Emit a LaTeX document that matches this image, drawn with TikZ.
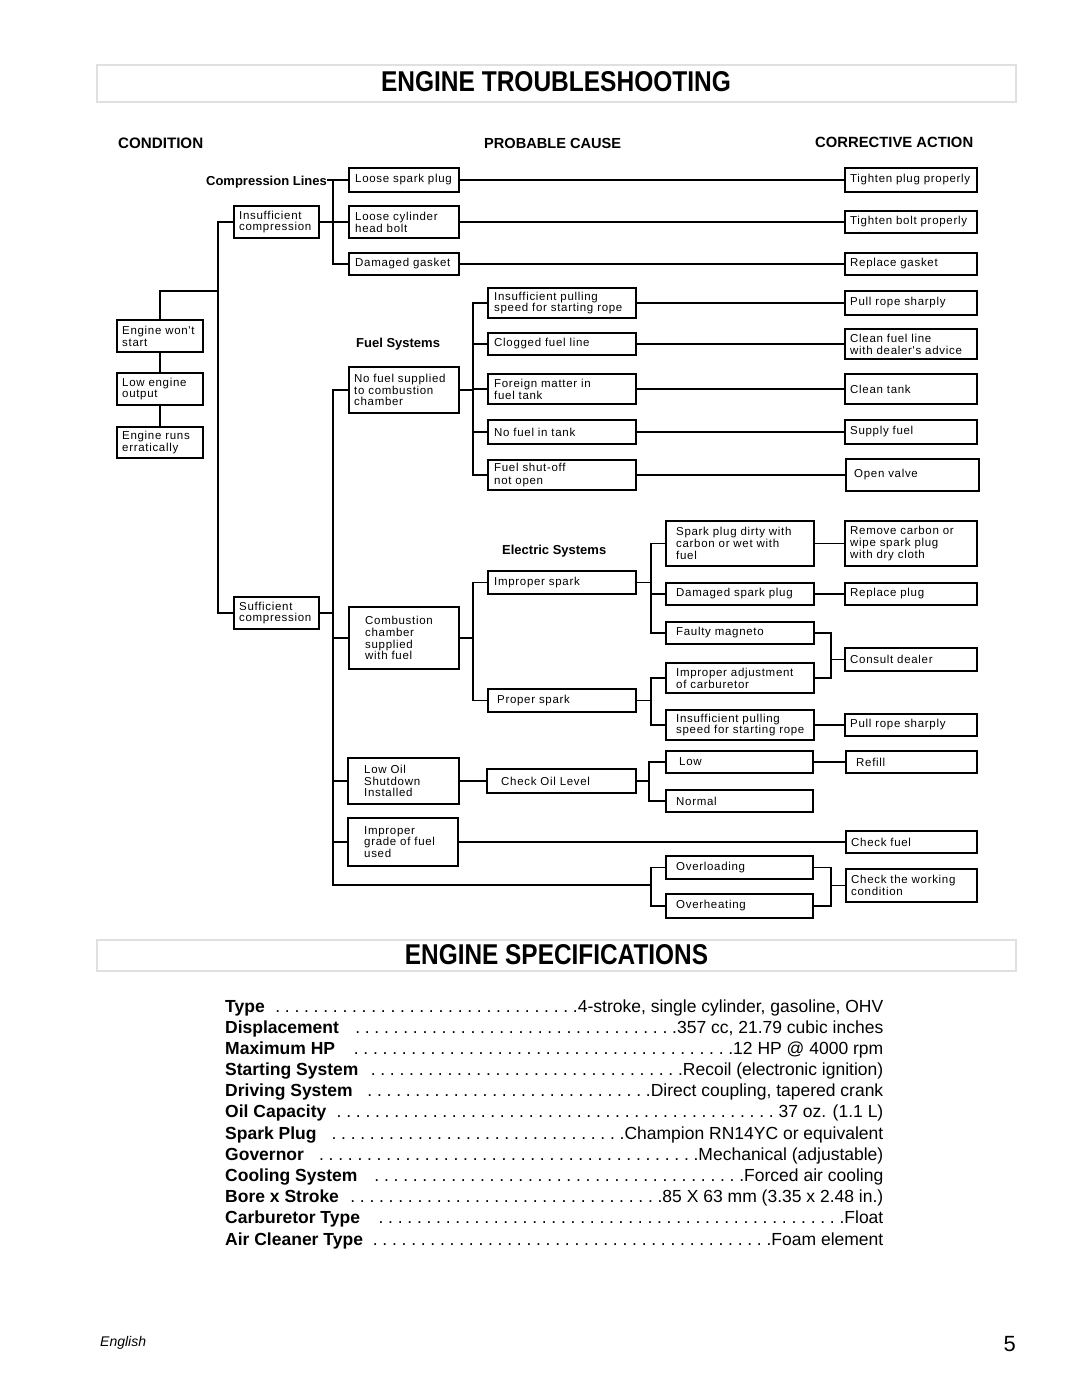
\documentclass[tikz,border=0pt]{standalone}
\usepackage{fontspec}
\setmainfont{Liberation Sans}
\newfontfamily\boxfont[LetterSpace=6]{Liberation Sans}
\usepackage{graphicx}
% box: [inset] name x1 y1 x2 y2 text
\newcommand\bx[7][5]{%
  \pgfmathsetmacro\bxw{#5-#3}\pgfmathsetmacro\bxh{#6-#4}%
  \pgfmathsetmacro\bxcx{(#3+#5)/2}\pgfmathsetmacro\bxcy{(#4+#6)/2}%
  \node[box, minimum width=\bxw pt, minimum height=\bxh pt] (#2) at (\bxcx,\bxcy) {};
  \node[boxtext, anchor=west] (#2-t) at ([xshift=#1pt]#2.west) {#7};}
\newlength\spLw \newlength\spVw \newlength\spDots
\newcommand\specbody[2]{%
  \settowidth\spLw{\textbf{#1}}%
  \settowidth\spVw{#2}%
  \pgfmathtruncatemacro\spN{(658pt-\spLw-\spVw-5pt)/9.6pt}%
  \setlength\spDots{\spN\dimexpr 9.6pt\relax}%
  \hbox to 658pt{\textbf{#1}\hfill\hbox to \spDots{\leaders\hbox to 9.6pt{\hss.}\hfill}#2}}
\newcommand\specline[4]{%
  \node[anchor=base west, inner sep=0pt, font=\fontsize{17.5}{20}\selectfont] (#1) at (225,#4)
   {\specbody{#2}{#3}};}
\begin{document}
\begin{tikzpicture}[x=1pt,y=-1pt,
  box/.style={draw, line width=1.6pt, inner sep=0pt, outer sep=0pt},
  boxtext/.style={inner sep=0pt, align=left, font=\boxfont\fontsize{11.5}{11.8}\selectfont},
  conn/.style={line width=1.4pt},
  head/.style={anchor=west, inner sep=0pt, font=\bfseries\fontsize{15}{15}\selectfont},
  grp/.style={inner sep=0pt, font=\bfseries\fontsize{13}{13}\selectfont},
  titlebox/.style={draw=black!12, line width=2.2pt, inner sep=0pt, outer sep=0pt}]
\useasboundingbox (0,0) rectangle (1080,1397);
\fill[white] (0,0) rectangle (1080,1397);

% ---------- titles ----------
\node[titlebox, minimum width=919pt, minimum height=37pt] (tb1) at (556.5,83.5) {};
\node[inner sep=0pt] (tt1) at (556,81.5) {\resizebox{350pt}{20pt}{\bfseries ENGINE TROUBLESHOOTING}};
\node[titlebox, minimum width=919pt, minimum height=31pt] (tb2) at (556.5,955.5) {};
\node[inner sep=0pt] (tt2) at (556.5,954.5) {\resizebox{303pt}{20pt}{\bfseries ENGINE SPECIFICATIONS}};

% ---------- column heads ----------
\node[head] (hcond) at (118,143.5) {\resizebox{85pt}{!}{CONDITION}};
\node[head] (hpc) at (484,143.5) {\resizebox{137pt}{!}{PROBABLE CAUSE}};
\node[head] (hca) at (815,142) {\resizebox{158pt}{!}{CORRECTIVE ACTION}};

\node[grp, anchor=east] (gcl) at (327,182) {Compression Lines};
\node[grp, anchor=west] (gfs) at (356,344.5) {Fuel Systems};
\node[grp, anchor=west] (ges) at (502,551) {Electric Systems};

% ---------- condition column ----------
\bx{ews}{117}{320}{203}{352}{Engine won't\\start}
\bx{leo}{117}{373}{203}{405}{Low engine\\output}
\bx{ere}{117}{427}{203}{458}{Engine runs\\erratically}
\bx{ic}{234}{206}{319}{238}{Insufficient\\compression}
\bx{sc}{234}{597}{319}{629}{Sufficient\\compression}

% ---------- probable cause, first level ----------
\bx[6]{lsp}{349}{168}{459}{192}{Loose spark plug}
\bx[6]{lcb}{349}{206}{459}{238}{Loose cylinder\\head bolt}
\bx[6]{dg}{349}{253}{459}{275}{Damaged gasket}
\bx{nfs}{349}{367}{459}{413}{No fuel supplied\\to combustion\\chamber}
\bx[16]{cc}{349}{607}{459}{669}{Combustion\\chamber\\supplied\\with fuel}
\bx[16]{los}{348}{758}{459}{804}{Low Oil\\Shutdown\\Installed}
\bx[16]{igf}{348}{818}{458}{866}{Improper\\grade of fuel\\used}

% ---------- fuel causes ----------
\bx[6]{ips}{488}{288}{636}{318}{Insufficient pulling\\speed for starting rope}
\bx[6]{cfl}{488}{333}{636}{355}{Clogged fuel line}
\bx[6]{fmt}{488}{374}{636}{404}{Foreign matter in\\fuel tank}
\bx[6]{nft}{488}{420}{636}{444}{No fuel in tank}
\bx[6]{fso}{488}{460}{636}{490}{Fuel shut-off\\[2pt]not open}

% ---------- electric ----------
\bx[6]{isp}{488}{571}{636}{594}{Improper spark}
\bx[9]{psp}{488}{689}{636}{712}{Proper spark}
\bx[10]{spd}{666}{521}{814}{566}{Spark plug dirty with\\carbon or wet with\\fuel}
\bx[10]{dsp}{666}{583}{814}{605}{Damaged spark plug}
\bx[10]{fm}{666}{622}{814}{644}{Faulty magneto}
\bx[10]{iac}{666}{663}{814}{693}{Improper adjustment\\of carburetor}
\bx[10]{ipr}{666}{710}{814}{740}{Insufficient pulling\\speed for starting rope}

% ---------- oil / overload ----------
\bx[14]{col}{487}{769}{636}{793}{Check Oil Level}
\bx[13]{low}{666}{751}{813}{773}{Low}
\bx[10]{nor}{666}{790}{813}{812}{Normal}
\bx[10]{ovl}{666}{856}{813}{879}{Overloading}
\bx[10]{ovh}{666}{894}{813}{918}{Overheating}

% ---------- corrective action ----------
\bx{tpp}{845}{168}{977}{192}{Tighten plug properly}
\bx{tbp}{845}{211}{977}{233}{Tighten bolt properly}
\bx{rg}{845}{253}{977}{275}{Replace gasket}
\bx{prs}{845}{291}{977}{315}{Pull rope sharply}
\bx{cfa}{845}{329}{977}{359}{Clean fuel line\\with dealer's advice}
\bx{ct}{845}{374}{977}{404}{Clean tank}
\bx{sf}{845}{420}{977}{444}{Supply fuel}
\bx[8]{ov}{846}{459}{979}{491}{Open valve}
\bx{rc}{845}{521}{977}{566}{Remove carbon or\\wipe spark plug\\with dry cloth}
\bx{rp}{845}{583}{977}{605}{Replace plug}
\bx{cd}{845}{648}{977}{671}{Consult dealer}
\bx{prs2}{845}{714}{977}{736}{Pull rope sharply}
\bx[10]{ref}{846}{751}{977}{773}{Refill}
\bx{cf}{846}{831}{977}{853}{Check fuel}
\bx{cwc}{846}{869}{977}{902}{Check the working\\condition}

% ---------- connectors ----------
\begin{scope}[conn]
\coordinate (jc) at (218,291);
\coordinate (b3) at (333,885);
\coordinate (jov) at (651,885);
% condition tree
\draw (ic.west) -- ++(-16,0) |- (sc.west);
\draw (jc) -| (ews.north);
\draw (ews.south) -- (leo.north);
\draw (leo.south) -- (ere.north);
% compression lines
\draw (gcl.east |- lsp.west) -- (lsp.west);
\draw (lsp.west) -- ++(-16,0) |- (dg.west);
\draw (ic.east) -- (lcb.west);
\draw (lsp.east) -- (tpp.west);
\draw (lcb.east) -- (tbp.west);
\draw (dg.east) -- (rg.west);
% sufficient compression trunk
\draw (nfs.west) -| (b3) -- (jov);
\draw (sc.east) -- (sc.east -| b3);
\draw (cc.west) -- (cc.west -| b3);
\draw (los.west) -- (los.west -| b3);
\draw (igf.west) -- (igf.west -| b3);
% fuel
\draw (nfs.east) -- ++(14,0);
\draw (ips.west) -- ++(-15,0) |- (fso.west);
\draw (cfl.west) -- ++(-15,0);
\draw (fmt.west) -- ++(-15,0);
\draw (nft.west) -- ++(-15,0);
\draw (ips.east) -- (prs.west);
\draw (cfl.east) -- (cfa.west);
\draw (fmt.east) -- (ct.west);
\draw (nft.east) -- (sf.west);
\draw (fso.east) -- (ov.west);
% electric
\draw (cc.east) -- ++(14,0);
\draw (isp.west) -- ++(-15,0) |- (psp.west);
\draw (isp.east) -- ++(15,0);
\draw (spd.west) -- ++(-15,0) |- (fm.west);
\draw (dsp.west) -- ++(-15,0);
\draw (psp.east) -- ++(15,0);
\draw (iac.west) -- ++(-15,0) |- (ipr.west);
\draw (spd.east) -- (rc.west);
\draw (dsp.east) -- (rp.west);
\draw (fm.east) -- ++(17,0) |- (iac.east);
\draw (cd.west) -- ++(-14,0);
\draw (ipr.east) -- (prs2.west);
% oil
\draw (los.east) -- (col.west);
\draw (col.east) -- ++(13,0);
\draw (low.west) -- ++(-17,0) |- (nor.west);
\draw (low.east) -- (ref.west);
% grade of fuel
\draw (igf.east) -- (cf.west);
% overload
\draw (ovl.west) -| (jov) |- (ovh.west);
\draw (ovl.east) -- ++(18,0) |- (ovh.east);
\draw (cwc.west) -- ++(-15,0);
\end{scope}

% ---------- specifications ----------
\specline{s1}{Type}{4-stroke, single cylinder, gasoline, OHV}{1012}
\specline{s2}{Displacement}{357 cc, 21.79 cubic inches}{1033}
\specline{s3}{Maximum HP}{12 HP @ 4000 rpm}{1054}
\specline{s4}{Starting System}{Recoil (electronic ignition)}{1075}
\specline{s5}{Driving System}{Direct coupling, tapered crank}{1096}
\specline{s6}{Oil Capacity}{\ 37 oz. (1.1 L)}{1117.5}
\specline{s7}{Spark Plug}{Champion RN14YC or equivalent}{1139}
\specline{s8}{Governor}{Mechanical (adjustable)}{1160}
\specline{s9}{Cooling System}{Forced air cooling}{1181}
\specline{s10}{Bore x Stroke}{85 X 63 mm (3.35 x 2.48 in.)}{1202}
\specline{s11}{Carburetor Type}{Float}{1223}
\specline{s12}{Air Cleaner Type}{Foam element}{1245}

% ---------- footer ----------
\node[anchor=base west, inner sep=0pt, font=\itshape\fontsize{14}{16}\selectfont] (fen) at (100,1346) {English};
\node[anchor=base east, inner sep=0pt, font=\fontsize{22}{24}\selectfont] (fpg) at (1016,1351) {5};
\end{tikzpicture}
\end{document}
